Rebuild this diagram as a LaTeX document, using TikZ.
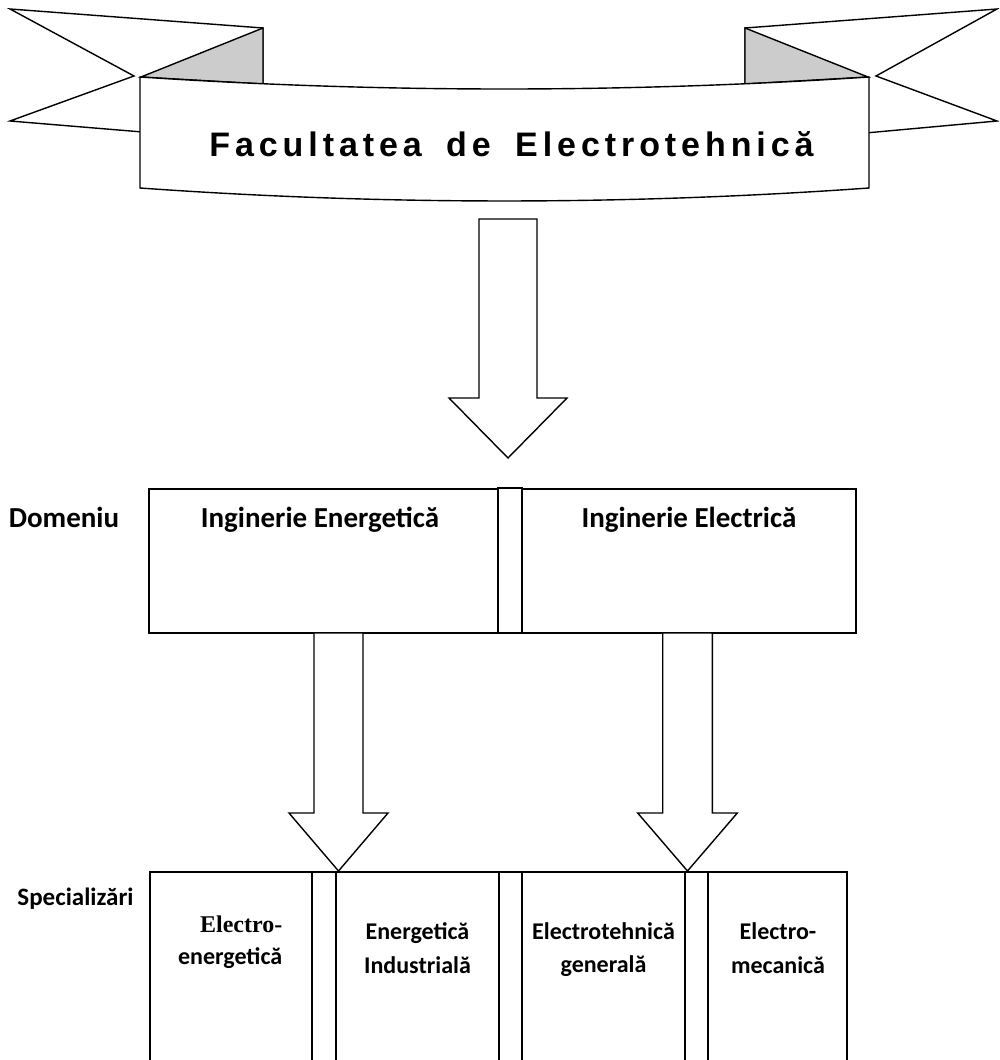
\documentclass[tikz,border=0pt]{standalone}
\usepackage{fontspec}
\setmainfont{Carlito}
\newfontfamily\titlefont[LetterSpace=14.5]{Liberation Sans}
\newfontfamily\serifb{Liberation Serif}
\usetikzlibrary{calc}
\begin{document}
\begin{tikzpicture}[x=1pt,y=-1pt, line width=1.4pt, line join=miter,
  box/.style={draw, rectangle, inner sep=0pt, outer sep=0pt, anchor=north west},
  lbl/.style={font=\fontsize{29}{34}\selectfont\bfseries, inner sep=0pt, anchor=base},
  slbl/.style={font=\fontsize{24}{32}\selectfont\bfseries, inner sep=0pt, anchor=base},
  shapeline/.style={draw, fill=white},
  fold/.style={draw, fill=black!20},
  ]
\clip (0,0) rectangle (999,1060);
\fill[white] (0,0) rectangle (999,1060);
% banner tails
\draw[shapeline] (10,9) -- (263,28) -- (263,142) -- (10,121) -- (134,76) -- cycle;
\draw[shapeline] (997,9) -- (745,28) -- (745,144) -- (997,121) -- (876,76) -- cycle;
\draw[fold] (141,77) -- (263,28) -- (263,84) -- cycle;
\draw[fold] (868,77) -- (745,28) -- (745,84) -- cycle;
\draw[shapeline] (140,77) .. controls (382.7,93) and (625.7,93) .. (869,77) -- (869,188)
  .. controls (625.7,205.3) and (382.7,205.3) .. (140,188) -- cycle;
\node[font=\titlefont\fontsize{34}{40}\selectfont\bfseries, inner sep=0pt, anchor=base] (title) at (511.5,156) {Facultatea\hspace{10pt} de\hspace{10pt} Electrotehnică};
% arrow 1
\coordinate (a1t) at (508,219);
\coordinate (a1h) at (508,458);
\draw[shapeline] ($(a1t)+(-29,0)$) -- ($(a1t)+(29,0)$) -- ($(a1h)+(29,-60)$) -- ($(a1h)+(59,-60)$)
  -- (a1h) -- ($(a1h)+(-59,-60)$) -- ($(a1h)+(-29,-60)$) -- cycle;
% domain
\node[lbl] (dom) at (64,527) {Domeniu};
\node[box, minimum width=349, minimum height=144] (de) at (149,489) {};
\node[box, minimum width=24, minimum height=145] (dsep) at (498,488) {};
\node[box, minimum width=334, minimum height=144] (dl) at (522,489) {};
\node[lbl] (tde) at (320,527) {Inginerie Energetică};
\node[lbl] (tdl) at (689,527) {Inginerie Electrică};
% arrows 2, 3
\coordinate (a2t) at (338.5,633);
\coordinate (a2h) at (338.5,871);
\draw[shapeline] ($(a2t)+(-24.5,0)$) -- ($(a2t)+(24.5,0)$) -- ($(a2h)+(24.5,-58)$) -- ($(a2h)+(49.5,-58)$)
  -- (a2h) -- ($(a2h)+(-49.5,-58)$) -- ($(a2h)+(-24.5,-58)$) -- cycle;
\coordinate (a3t) at (687.5,633);
\coordinate (a3h) at (687.5,871);
\draw[shapeline] ($(a3t)+(-24.8,0)$) -- ($(a3t)+(24.8,0)$) -- ($(a3h)+(24.8,-58)$) -- ($(a3h)+(49.8,-58)$)
  -- (a3h) -- ($(a3h)+(-49.8,-58)$) -- ($(a3h)+(-24.8,-58)$) -- cycle;
% specializations
\node[slbl, font=\fontsize{25}{30}\selectfont\bfseries] (spec) at (75.5,905) {Specializări};
\node[box, minimum width=162, minimum height=200] (s1) at (150,872) {};
\node[box, minimum width=24, minimum height=200] (g1) at (312,872) {};
\node[box, minimum width=163, minimum height=200] (s2) at (336,872) {};
\node[box, minimum width=23, minimum height=200] (g2) at (499,872) {};
\node[box, minimum width=163, minimum height=200] (s3) at (522,872) {};
\node[box, minimum width=23, minimum height=200] (g3) at (685,872) {};
\node[box, minimum width=139, minimum height=200] (s4) at (708,872) {};
\node[slbl, anchor=base east, font=\serifb\fontsize{24}{30}\selectfont\bfseries] (t1a) at (283,932) {Electro-};
\node[slbl, anchor=base east] (t1b) at (283,964) {energetică};
\node[slbl] (t2a) at (417.5,939) {Energetică};
\node[slbl] (t2b) at (417.5,973) {Industrială};
\node[slbl] (t3a) at (603.5,939) {Electrotehnică};
\node[slbl] (t3b) at (603.5,972) {generală};
\node[slbl] (t4a) at (778,939) {Electro-};
\node[slbl] (t4b) at (778,973) {mecanică};
\end{tikzpicture}
\end{document}
